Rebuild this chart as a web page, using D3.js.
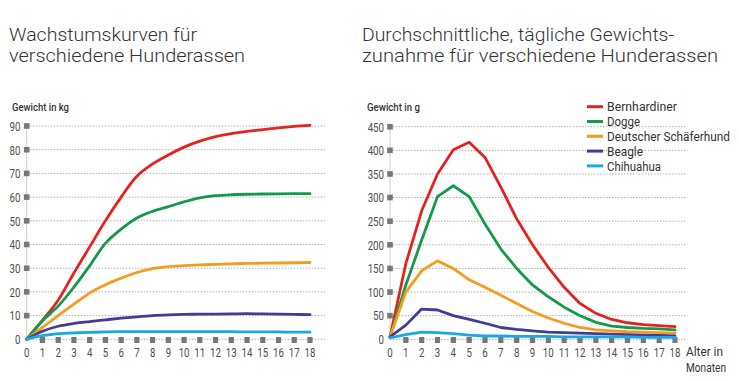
<!DOCTYPE html>
<html><head><meta charset="utf-8">
<script src="https://cdn.jsdelivr.net/npm/d3@7"></script>
<style>
html,body{margin:0;padding:0;background:#fff;}
svg{display:block;}
text{font-family:Roboto,"Noto Sans",sans-serif;}
</style></head>
<body>
<svg id="c" width="739" height="381"></svg>
<script>
// ---- data ----
const months = [0,1,2,3,4,5,6,7,8,9,10,11,12,13,14,15,16,17,18];
const breeds = ["Bernhardiner","Dogge","Deutscher Schäferhund","Beagle","Chihuahua"];
const colors = ["#e42320","#14984a","#f59c1c","#433b95","#18a9e3"];
// Gewicht in kg
const weightBernhardiner = [0,8,16.5,28,39,50,60,68.8,74,77.8,81.1,83.6,85.5,86.8,87.7,88.5,89.2,89.8,90.3];
const weightDogge        = [0,7.8,14,22,31,40.5,46.5,51.2,54,56,58,59.7,60.6,61,61.2,61.3,61.4,61.5,61.5];
const weightSchaefer     = [0,5,10,14.8,19.5,23,25.8,28.2,29.8,30.7,31.1,31.4,31.6,31.8,32,32.1,32.2,32.3,32.4];
const weightBeagle       = [0,3.4,5.5,6.7,7.5,8.2,8.9,9.5,10,10.3,10.5,10.6,10.6,10.7,10.8,10.7,10.6,10.5,10.4];
const weightChihuahua    = [0,1.5,2.4,2.7,2.9,3.1,3.2,3.2,3.2,3.2,3.2,3.2,3.2,3.2,3.1,3.1,3.1,3.0,3.0];
// Gewichtszunahme in g
const gainBernhardiner = [5,160,272,350,401,417,385,322,255,200,152,110,76,55,42,35,31,29,27];
const gainDogge        = [5,115,210,302,325,302,244,191,150,115,90,68,50,36,28,25,23,22,20];
const gainSchaefer     = [5,100,145,166,150,126,110,93,76,59,45,34,25,20,18,16,15,14,13];
const gainBeagle       = [5,30,64,62,50,42,34,25,21,18,15,14,13,12,11,10,9,8,7];
const gainChihuahua    = [3,10,15,14,12,9,7,7,6,6,6,5,5,5,5,5,4,4,4];
const ticksKg = [0,10,20,30,40,50,60,70,80,90];
const ticksG  = [0,50,100,150,200,250,300,350,400,450];

const svg = d3.select("#c");
const grey = "#4d4d4d";
const sq = "#777";

function titleLine(x, y, txt, len){
  svg.append("text").attr("x",x).attr("y",y).text(txt)
    .attr("font-size",18).attr("font-weight",300).attr("fill","#333")
    .attr("textLength",len).attr("lengthAdjust","spacingAndGlyphs");
}
titleLine(9,41,"Wachstumskurven für",188);
titleLine(9,62,"verschiedene Hunderassen",236);
titleLine(362,41,"Durchschnittliche, tägliche Gewichts-",312);
titleLine(362,62,"zunahme für verschiedene Hunderassen",356);

function condText(g, x, y, txt, anchor, size, sx){
  return g.append("text")
    .attr("transform",`translate(${x},${y}) scale(${sx},1)`)
    .attr("text-anchor",anchor).attr("font-size",size)
    .attr("fill",grey).text(txt);
}

function chart(opt){
  const g = svg.append("g");
  const x = d3.scaleLinear().domain([0,18]).range(opt.xr);
  const y = d3.scaleLinear().domain([0,opt.max]).range([339.3, opt.top]);
  // gridlines
  g.selectAll("line.grid").data(opt.ticks).join("line")
    .attr("x1",x(0)).attr("x2",opt.gridEnd)
    .attr("y1",d=>y(d)).attr("y2",d=>y(d))
    .attr("stroke","#b0b0b0").attr("stroke-width",1)
    .attr("stroke-dasharray","1.5,1.5");
  // y axis line
  g.append("line").attr("x1",x(0)).attr("x2",x(0))
    .attr("y1",y(0)).attr("y2",y(opt.max))
    .attr("stroke","#d0d0d0").attr("stroke-width",1);
  // y squares
  g.selectAll("rect.ys").data(opt.ticks.filter(d=>d>0)).join("rect")
    .attr("x",x(0)-2.8).attr("y",d=>y(d)-2.8).attr("width",5.6).attr("height",5.6)
    .attr("fill",sq);
  // x squares
  g.selectAll("rect.xs").data(months.filter(d=>d>0)).join("rect")
    .attr("x",d=>x(d)-2.6).attr("y",y(0)-2.3).attr("width",5.2).attr("height",6)
    .attr("fill",sq);
  // y labels
  opt.ticks.forEach(t=>condText(g, opt.yLabX, y(t)+4.8, String(t), "end", 13.5, 0.72));
  // x labels
  months.forEach(m=>condText(g, x(m), 357, String(m), "middle", 13.5, 0.72));
  // axis title
  g.append("text").attr("x",opt.yTitleX).attr("y",111).text(opt.yTitle)
    .attr("font-size",11.5).attr("font-weight",500).attr("fill","#333")
    .attr("textLength",opt.yTitleLen).attr("lengthAdjust","spacingAndGlyphs");
  // lines
  const line = d3.line().x((d,i)=>x(months[i])).y(d=>y(d)).curve(opt.curve);
  opt.series.forEach((s,i)=>{
    g.append("path").datum(s).attr("d",line)
      .attr("fill","none").attr("stroke",colors[i]).attr("stroke-width",2.8)
      .attr("stroke-linejoin","round").attr("stroke-linecap","round");
  });
  return {g,x,y};
}

chart({xr:[26.7,310], max:90, top:126, ticks:ticksKg, gridEnd:325, yLabX:20.5,
  yTitle:"Gewicht in kg", yTitleX:12, yTitleLen:57, curve:d3.curveCatmullRom.alpha(0.5),
  series:[weightBernhardiner,weightDogge,weightSchaefer,weightBeagle,weightChihuahua]});

chart({xr:[390,675], max:450, top:126.7, ticks:ticksG, gridEnd:687, yLabX:384,
  yTitle:"Gewicht in g", yTitleX:367, yTitleLen:53, curve:d3.curveLinear,
  series:[gainBernhardiner,gainDogge,gainSchaefer,gainBeagle,gainChihuahua]});

// x axis title
const ax = svg.append("g");
ax.append("text").attr("x",686).attr("y",356).text("Alter in")
  .attr("font-size",12).attr("fill","#333").attr("textLength",37).attr("lengthAdjust","spacingAndGlyphs");
ax.append("text").attr("x",686).attr("y",372).text("Monaten")
  .attr("font-size",12).attr("fill","#333").attr("textLength",40).attr("lengthAdjust","spacingAndGlyphs");

// legend
const legLens = [70,33,123,36,54];
const leg = svg.append("g").selectAll("g").data(breeds.map((b,i)=>({b,i}))).join("g")
  .attr("transform",d=>`translate(587,${106.7+d.i*14.8})`);
leg.append("line").attr("x1",0).attr("x2",16).attr("y1",0).attr("y2",0)
  .attr("stroke",d=>colors[d.i]).attr("stroke-width",3);
leg.append("text").attr("x",20).attr("y",4.6).text(d=>d.b)
  .attr("font-size",12).attr("fill","#333")
  .attr("textLength",d=>legLens[d.i]).attr("lengthAdjust","spacingAndGlyphs");
</script>
</body></html>
